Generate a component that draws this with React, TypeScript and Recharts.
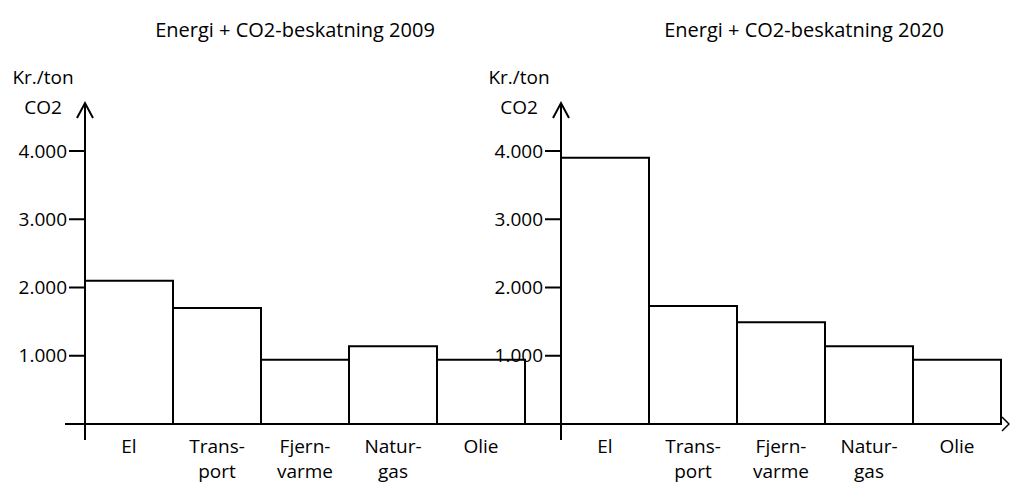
import { Bar, BarChart, XAxis, YAxis } from "recharts"

const categories = ["El", "Transport", "Fjernvarme", "Naturgas", "Olie"]
const tickLines = [["El"], ["Trans-", "port"], ["Fjern-", "varme"], ["Natur-", "gas"], ["Olie"]]
const values2009 = [2100, 1700, 940, 1140, 940]
const values2020 = [3900, 1730, 1490, 1140, 940]
const yTicks = [1000, 2000, 3000, 4000]
const titles = ["Energi + CO2-beskatning 2009", "Energi + CO2-beskatning 2020"]

const FONT = "'Open Sans', sans-serif"

const rows2009 = categories.map((name, i) => ({ name, v: values2009[i] }))
const rows2020 = categories.map((name, i) => ({ name, v: values2020[i] }))

const fmt = (v: number) => v.toLocaleString("da-DK")

function CatTick(props: any) {
  const { x, y, index } = props
  const lines = tickLines[index] || []
  return (
    <text textAnchor="middle" fontFamily={FONT} fontSize={19} fill="#000">
      {lines.map((l, i) => (
        <tspan key={i} x={x} y={y + 29 + i * 25}>
          {l}
        </tspan>
      ))}
    </text>
  )
}

// y axis arrow + unit text, drawn from the axis viewBox
function YDeco(props: any) {
  const vb = props.viewBox || {}
  const ax = vb.x + vb.width
  const top = vb.y
  const bottom = vb.y + vb.height
  return (
    <g>
      <line x1={ax} y1={top - 48} x2={ax} y2={bottom + 16} stroke="#000" strokeWidth={2} />
      <polyline points={`${ax - 8},${top - 33} ${ax},${top - 48} ${ax + 8},${top - 33}`} fill="none" stroke="#000" strokeWidth={2} />
      <text x={ax - 42} y={top - 67} textAnchor="middle" fontFamily={FONT} fontSize={19} fill="#000">
        Kr./ton
      </text>
      <text x={ax - 42} y={top - 37} textAnchor="middle" fontFamily={FONT} fontSize={19} fill="#000">
        CO2
      </text>
    </g>
  )
}

function XLineLeft(props: any) {
  const vb = props.viewBox || {}
  return <line x1={vb.x - 20} y1={vb.y} x2={vb.x + vb.width + 36} y2={vb.y} stroke="#000" strokeWidth={2} />
}

function XLineRight(props: any) {
  const vb = props.viewBox || {}
  const end = vb.x + vb.width
  return (
    <g>
      <line x1={vb.x} y1={vb.y} x2={end} y2={vb.y} stroke="#000" strokeWidth={2} />
      <polyline points={`${end + 1},${vb.y - 7} ${end + 8},${vb.y} ${end + 1},${vb.y + 7}`} fill="none" stroke="#000" strokeWidth={1.5} />
    </g>
  )
}

function Panel({ data, left, right, xLabel }: { data: any[]; left: number; right: number; xLabel: any }) {
  return (
    <div style={{ position: "absolute", left: 0, top: 0 }}>
      <BarChart
        width={1010}
        height={483}
        data={data}
        margin={{ top: 151, right, left, bottom: 0 }}
        barCategoryGap={0}
        barGap={0}
      >
        <XAxis
          dataKey="name"
          height={59}
          axisLine={false}
          tickLine={false}
          tickSize={0}
          tickMargin={0}
          interval={0}
          tick={<CatTick />}
          label={xLabel}
        />
        <YAxis
          width={85}
          domain={[0, 4000]}
          ticks={yTicks}
          tickFormatter={fmt}
          axisLine={false}
          tickLine={{ stroke: "#000", strokeWidth: 2 }}
          tickSize={16}
          tickMargin={2}
          tick={{ fill: "#000", fontFamily: FONT, fontSize: 19 }}
          label={<YDeco />}
        />
        <Bar dataKey="v" fill="#fff" stroke="#000" strokeWidth={2} isAnimationActive={false} />
      </BarChart>
    </div>
  )
}

export default function App() {
  return (
    <div style={{ position: "absolute", left: 0, top: 0, width: 1010, height: 483, background: "#fff", overflow: "hidden" }}>
      {titles.map((t, i) => (
        <div
          key={t}
          style={{
            position: "absolute",
            top: 16,
            left: i === 0 ? 295 - 200 : 804 - 200,
            width: 400,
            textAlign: "center",
            fontFamily: FONT,
            fontSize: 20,
            color: "#000",
            lineHeight: "28px",
            whiteSpace: "nowrap",
          }}
        >
          {t}
        </div>
      ))}
      <Panel data={rows2009} left={0} right={485} xLabel={<XLineLeft />} />
      <Panel data={rows2020} left={476} right={9} xLabel={<XLineRight />} />
    </div>
  )
}
